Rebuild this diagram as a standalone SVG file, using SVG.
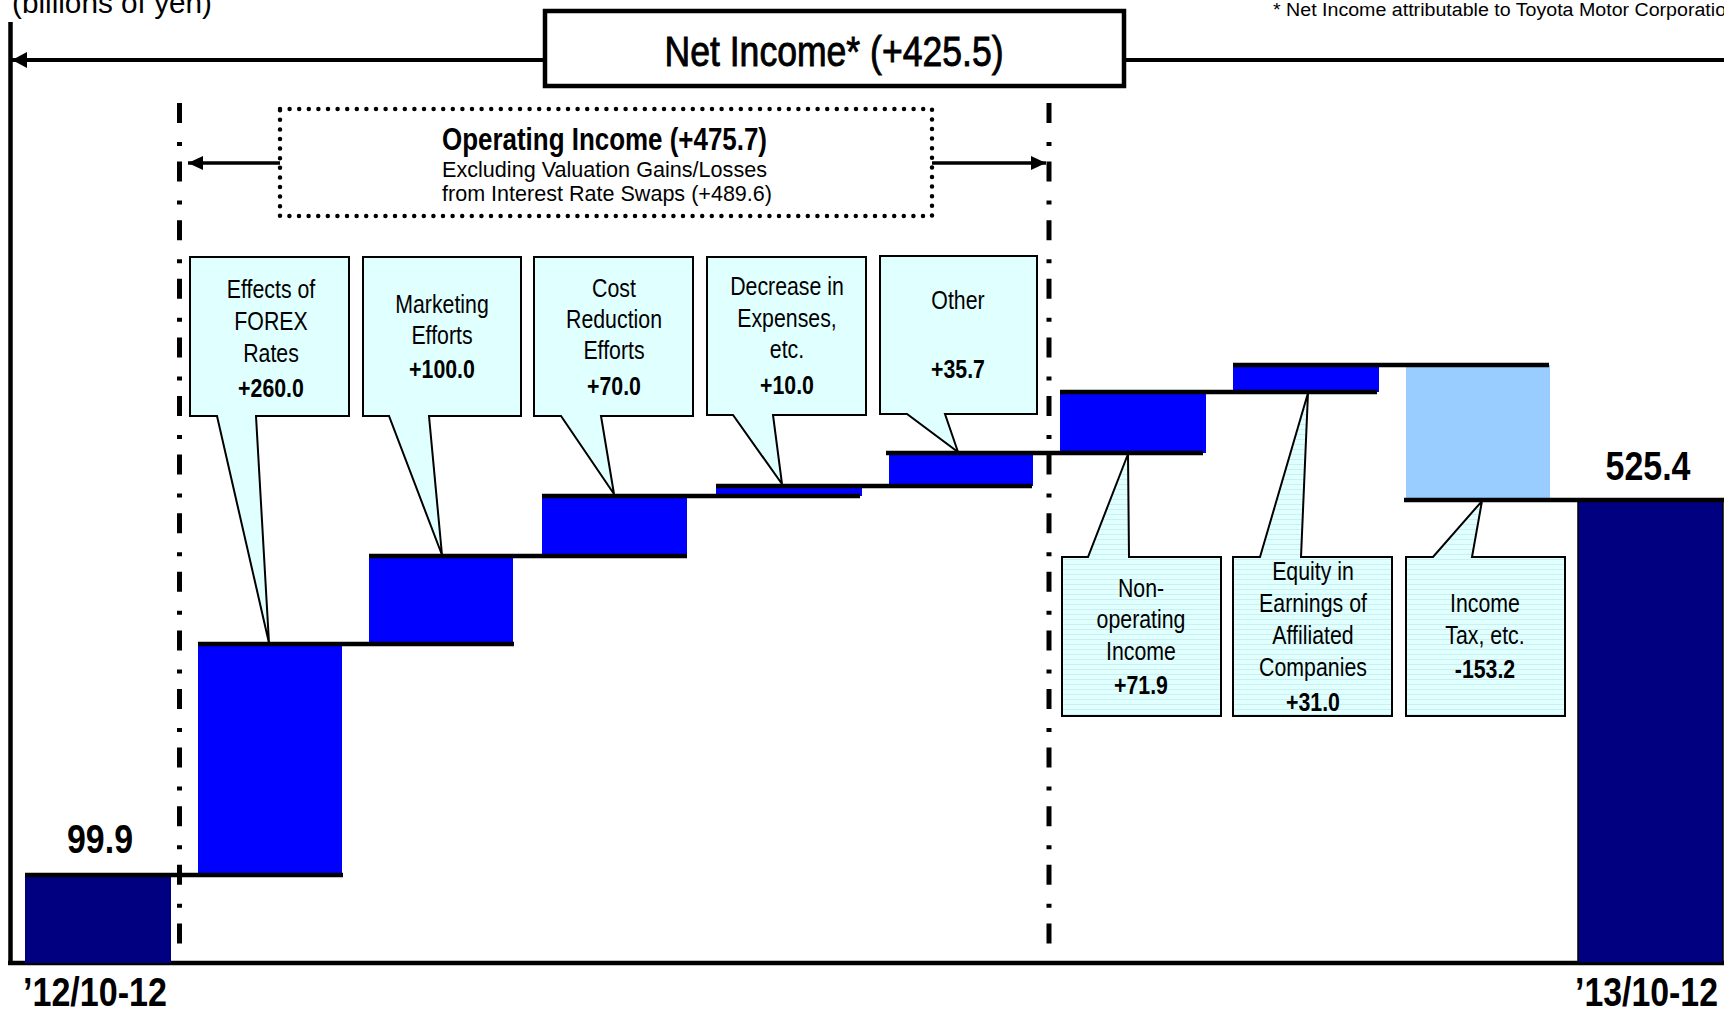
<svg xmlns="http://www.w3.org/2000/svg" width="1724" height="1011" viewBox="0 0 1724 1011">
<style>
text{font-family:'Liberation Sans Narrow','Arial Narrow','Liberation Sans',Arial,sans-serif;fill:#000}
.lbl{font-size:26px;text-anchor:middle}
.val{font-size:26px;font-weight:bold;text-anchor:middle}
.big{font-size:41px;font-weight:bold;text-anchor:middle}
.call{fill:#E0FFFF;stroke:#000;stroke-width:2;stroke-linejoin:miter}
.callS{fill:url(#stripes);stroke:#000;stroke-width:2;stroke-linejoin:miter}
.step{stroke:#000;stroke-width:4.5;fill:none}
.dd{stroke:#000;stroke-width:5;stroke-dasharray:20 19 4 15.6;fill:none}
.navy{fill:#000080}
.blue{fill:#0000FF}
.lb{fill:#99CCFF}
</style>
<defs>
<pattern id="stripes" patternUnits="userSpaceOnUse" width="10" height="5">
<rect width="10" height="5" fill="#E0FFFF"/>
<line x1="0" y1="4.5" x2="10" y2="4.5" stroke="#CDEFEF" stroke-width="1"/>
</pattern>
<marker id="ah" markerUnits="userSpaceOnUse" markerWidth="16" markerHeight="16" refX="15" refY="8" orient="auto">
<path d="M0,0 L15,8 L0,16 Z" fill="#000"/>
</marker>
<marker id="ah2" markerUnits="userSpaceOnUse" markerWidth="16" markerHeight="14" refX="15" refY="7" orient="auto">
<path d="M0,0 L15,7 L0,14 Z" fill="#000"/>
</marker>
</defs>
<rect width="1724" height="1011" fill="#fff"/>

<text x="12" y="13" style="font-size:30px" textLength="200" lengthAdjust="spacingAndGlyphs">(billions of yen)</text>
<text x="1273" y="16" style="font-size:18px" textLength="464" lengthAdjust="spacingAndGlyphs">* Net Income attributable to Toyota Motor Corporation</text>

<g id="axes">
<line x1="10.5" y1="22" x2="10.5" y2="965" stroke="#000" stroke-width="4.5"/>
<line x1="8" y1="963" x2="1724" y2="963" stroke="#000" stroke-width="4.5"/>
</g>

<g id="bars">
<rect class="navy" x="25" y="875" width="146" height="88"/>
<rect class="blue" x="198" y="644" width="144" height="231"/>
<rect class="blue" x="369" y="556" width="144" height="88"/>
<rect class="blue" x="542" y="496" width="145" height="60"/>
<rect class="blue" x="716" y="486" width="146" height="10"/>
<rect class="blue" x="889" y="453" width="144" height="33"/>
<rect class="blue" x="1060" y="392" width="146" height="61"/>
<rect class="blue" x="1233" y="365" width="146" height="27"/>
<rect class="lb" x="1406" y="365" width="144" height="135"/>
<rect class="navy" x="1578" y="500" width="145" height="463" stroke="#000" stroke-width="1.5"/>
</g>

<g id="connectors">
<line class="dd" x1="179.5" y1="103" x2="179.5" y2="946"/>
<line class="dd" x1="1049" y1="103" x2="1049" y2="946"/>
<line x1="545" y1="60" x2="12" y2="60" stroke="#000" stroke-width="4" marker-end="url(#ah)"/>
<line x1="1124" y1="60" x2="1724" y2="60" stroke="#000" stroke-width="4"/>
<line x1="280" y1="163" x2="188" y2="163" stroke="#000" stroke-width="3.5" marker-end="url(#ah2)"/>
<line x1="932" y1="163" x2="1046" y2="163" stroke="#000" stroke-width="3.5" marker-end="url(#ah2)"/>
<line class="step" x1="25" y1="875" x2="343" y2="875"/>
<line class="step" x1="198" y1="644" x2="514" y2="644"/>
<line class="step" x1="369" y1="556" x2="687" y2="556"/>
<line class="step" x1="542" y1="496" x2="860" y2="496"/>
<line class="step" x1="716" y1="486" x2="1032" y2="486"/>
<line class="step" x1="886" y1="453" x2="1203" y2="453"/>
<line class="step" x1="1060" y1="392" x2="1377" y2="392"/>
<line class="step" x1="1233" y1="365" x2="1549" y2="365"/>
<line class="step" x1="1404" y1="500" x2="1724" y2="500"/>
</g>

<g id="net-income">
<rect x="545" y="11" width="579" height="75" fill="#fff" stroke="#000" stroke-width="4.5"/>
<text x="834" y="66" style="font-size:42px;text-anchor:middle;stroke:#000;stroke-width:0.9" textLength="339" lengthAdjust="spacingAndGlyphs">Net Income* (+425.5)</text>
</g>

<g id="operating-income">
<rect x="280" y="109" width="652" height="107" fill="none" stroke="#000" stroke-width="4.5" stroke-dasharray="0 9.6" stroke-linecap="round"/>
<text x="604.5" y="150" style="font-size:31px;font-weight:bold;text-anchor:middle" textLength="325" lengthAdjust="spacingAndGlyphs">Operating Income (+475.7)</text>
<text x="604.5" y="177" style="font-size:22px;text-anchor:middle" textLength="325" lengthAdjust="spacingAndGlyphs">Excluding Valuation Gains/Losses</text>
<text x="607" y="201" style="font-size:22px;text-anchor:middle" textLength="330" lengthAdjust="spacingAndGlyphs">from Interest Rate Swaps (+489.6)</text>
</g>

<g id="forex">
<path class="call" d="M190,257 H349 V416 H256 L269,643 L217,416 H190 Z"/>
<g transform="translate(271 0) scale(0.82 1)">
<text class="lbl" x="0" y="298">Effects of</text>
<text class="lbl" x="0" y="330">FOREX</text>
<text class="lbl" x="0" y="362">Rates</text>
<text class="val" x="0" y="397">+260.0</text>
</g>
</g>
<g id="marketing">
<path class="call" d="M363,257 H521 V416 H429 L442,555 L389,416 H363 Z"/>
<g transform="translate(442 0) scale(0.82 1)">
<text class="lbl" x="0" y="313">Marketing</text>
<text class="lbl" x="0" y="344">Efforts</text>
<text class="val" x="0" y="378">+100.0</text>
</g>
</g>
<g id="cost">
<path class="call" d="M534,257 H693 V416 H601 L614,494 L561,416 H534 Z"/>
<g transform="translate(614 0) scale(0.82 1)">
<text class="lbl" x="0" y="297">Cost</text>
<text class="lbl" x="0" y="328">Reduction</text>
<text class="lbl" x="0" y="359">Efforts</text>
<text class="val" x="0" y="395">+70.0</text>
</g>
</g>
<g id="decrease">
<path class="call" d="M707,257 H866 V415 H773 L782,484 L733,415 H707 Z"/>
<g transform="translate(787 0) scale(0.82 1)">
<text class="lbl" x="0" y="295">Decrease in</text>
<text class="lbl" x="0" y="327">Expenses,</text>
<text class="lbl" x="0" y="358">etc.</text>
<text class="val" x="0" y="394">+10.0</text>
</g>
</g>
<g id="other">
<path class="call" d="M880,256 H1037 V414 H945 L958,452 L907,414 H880 Z"/>
<g transform="translate(958 0) scale(0.82 1)">
<text class="lbl" x="0" y="309">Other</text>
<text class="val" x="0" y="378">+35.7</text>
</g>
</g>
<g id="non-operating">
<path class="callS" d="M1062,557 H1088 L1128,454 L1129,557 H1221 V716 H1062 Z"/>
<g transform="translate(1141 0) scale(0.82 1)">
<text class="lbl" x="0" y="597">Non-</text>
<text class="lbl" x="0" y="628">operating</text>
<text class="lbl" x="0" y="660">Income</text>
<text class="val" x="0" y="694">+71.9</text>
</g>
</g>
<g id="equity">
<path class="callS" d="M1233,557 H1260 L1308,393 L1301,557 H1392 V716 H1233 Z"/>
<g transform="translate(1313 0) scale(0.82 1)">
<text class="lbl" x="0" y="580">Equity in</text>
<text class="lbl" x="0" y="612">Earnings of</text>
<text class="lbl" x="0" y="644">Affiliated</text>
<text class="lbl" x="0" y="676">Companies</text>
<text class="val" x="0" y="711">+31.0</text>
</g>
</g>
<g id="income-tax">
<path class="callS" d="M1406,557 H1433 L1482,501 L1472,557 H1565 V716 H1406 Z"/>
<g transform="translate(1485 0) scale(0.82 1)">
<text class="lbl" x="0" y="612">Income</text>
<text class="lbl" x="0" y="644">Tax, etc.</text>
<text class="val" x="0" y="678">-153.2</text>
</g>
</g>

<g id="values">
<text class="big" x="100" y="853" textLength="66" lengthAdjust="spacingAndGlyphs">99.9</text>
<text class="big" x="1648" y="480" textLength="85" lengthAdjust="spacingAndGlyphs">525.4</text>
<text class="big" x="95" y="1006" textLength="144" lengthAdjust="spacingAndGlyphs">’12/10-12</text>
<text class="big" x="1646.5" y="1006" textLength="143" lengthAdjust="spacingAndGlyphs">’13/10-12</text>
</g>
</svg>
